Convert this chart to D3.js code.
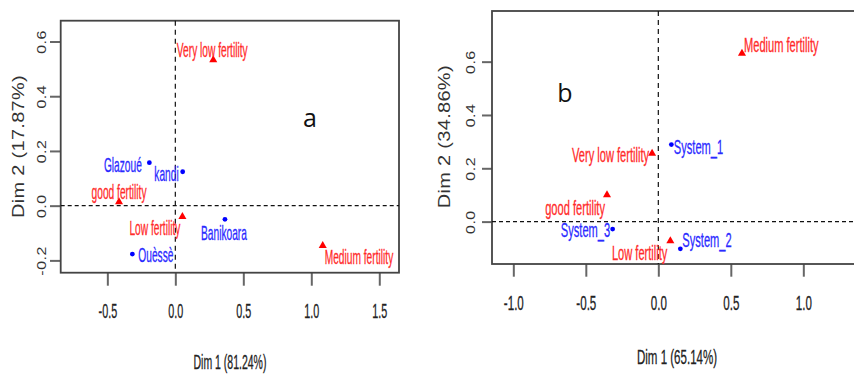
<!DOCTYPE html>
<html><head><meta charset="utf-8">
<script src="https://cdn.jsdelivr.net/npm/d3@7"></script>
<style>
html,body{margin:0;padding:0;background:#fff;}
svg{display:block;font-family:"Liberation Sans",Arial,Helvetica,sans-serif;}
</style></head>
<body>
<svg id="chart" width="854" height="374"></svg>
<script>
// ---------- Data (panel a) ----------
const sitesA = ["Glazoué", "kandi", "Banikoara", "Ouèssè"];
const sitesAx = [-0.191, 0.054, 0.365, -0.316];
const sitesAy = [0.157, 0.124, -0.050, -0.177];
const fertA = ["Very low fertility", "good fertility", "Low fertility", "Medium fertility"];
const fertAx = [0.279, -0.414, 0.052, 1.084];
const fertAy = [0.533, 0.014, -0.040, -0.146];
const xTicksA = [-0.5, 0.0, 0.5, 1.0, 1.5];
const yTicksA = [-0.2, 0.0, 0.2, 0.4, 0.6];
const xTitleA = "Dim 1 (81.24%)";
const yTitleA = "Dim 2 (17.87%)";

// ---------- Data (panel b) ----------
const sitesB = ["System_1", "System_2", "System_3"];
const sitesBx = [0.090, 0.152, -0.315];
const sitesBy = [0.289, -0.102, -0.028];
const fertB = ["Medium fertility", "Very low fertility", "good fertility", "Low fertility"];
const fertBx = [0.577, -0.043, -0.354, 0.083];
const fertBy = [0.631, 0.256, 0.100, -0.072];
const xTicksB = [-1.0, -0.5, 0.0, 0.5, 1.0, 1.5];
const yTicksB = [0.0, 0.2, 0.4, 0.6];
const xTitleB = "Dim 1 (65.14%)";
const yTitleB = "Dim 2 (34.86%)";

// label placement (anchor, dx, dy in px relative to the marker)
const placeA = {
  "Glazoué": ["end", -7.5, 2.5], "kandi": ["end", -4, 2], "Banikoara": ["middle", -1, 13.5],
  "Ouèssè": ["start", 6, 0.5], "Very low fertility": ["middle", -1, -10], "good fertility": ["middle", 0, -10],
  "Low fertility": ["end", -2, 11.6], "Medium fertility": ["start", 2, 11.6]
};
const placeB = {
  "System_1": ["start", 2.5, 2], "System_2": ["start", 2, -9], "System_3": ["end", -2.5, 0.5],
  "Medium fertility": ["start", 2, -8], "Very low fertility": ["end", -3, 2],
  "good fertility": ["end", -2, 13], "Low fertility": ["end", -3, 12]
};

const svg = d3.select("#chart");

function panel(cfg) {
  const g = svg.append("g");
  const x = d3.scaleLinear().domain(cfg.xDom).range(cfg.xRange);
  const y = d3.scaleLinear().domain(cfg.yDom).range(cfg.yRange);
  const [L, R] = cfg.xRange, [B, T] = cfg.yRange;
  const fmt = d => d.toFixed(1);

  // x axis
  const xa = g.append("g").attr("transform", `translate(0,${B})`)
    .call(d3.axisBottom(x).tickValues(cfg.xTicks.filter(v => x(v) < 854)).tickSize(cfg.tickLen).tickFormat(fmt));
  xa.select(".domain").remove();
  xa.selectAll(".tick line").attr("stroke", "#666").attr("stroke-width", 2);
  xa.selectAll(".tick text").attr("y", null).attr("dy", "0.35em").attr("fill", "#222")
    .attr("stroke", "#222").attr("stroke-width", 0.3)
    .attr("font-size", 20).attr("text-anchor", "middle")
    .attr("transform", `translate(0,${cfg.xLabOff}) scale(${cfg.tsx},1)`);

  // y axis
  const ya = g.append("g").attr("transform", `translate(${L},0)`)
    .call(d3.axisLeft(y).tickValues(cfg.yTicks).tickSize(cfg.tickLenY).tickFormat(fmt));
  ya.select(".domain").remove();
  ya.selectAll(".tick line").attr("stroke", "#666").attr("stroke-width", 2);
  ya.selectAll(".tick text").attr("x", null).attr("dy", "0.35em").attr("fill", "#333")
    .attr("font-size", 16).attr("text-anchor", "middle").attr("letter-spacing", 0.5)
    .attr("transform", `translate(${-cfg.yLabOff},0) rotate(-90) scale(1,0.85)`);

  // box
  g.append("rect").attr("x", L).attr("y", T).attr("width", R - L).attr("height", B - T)
    .attr("fill", "none").attr("stroke", "#444").attr("stroke-width", 1.8);

  // dashed zero lines
  g.append("line").attr("x1", x(0)).attr("x2", x(0)).attr("y1", T).attr("y2", B)
    .attr("stroke", "#111").attr("stroke-width", 1.2).attr("stroke-dasharray", "5,4");
  g.append("line").attr("x1", L).attr("x2", R).attr("y1", y(0)).attr("y2", y(0))
    .attr("stroke", "#111").attr("stroke-width", 1.4).attr("stroke-dasharray", "4,3");

  // titles
  g.append("text").text(cfg.xTitle).attr("font-size", 21).attr("fill", "#222")
    .attr("stroke", "#222").attr("stroke-width", 0.3)
    .attr("text-anchor", "middle").attr("dy", "0.35em")
    .attr("transform", `translate(${cfg.xTitlePos[0]},${cfg.xTitlePos[1]}) scale(${cfg.titleSx},1)`);
  g.append("text").text(cfg.yTitle).attr("font-size", 20).attr("fill", "#333")
    .attr("text-anchor", "middle").attr("dy", "0.35em").attr("letter-spacing", 0.3)
    .attr("transform", `translate(${cfg.yTitlePos[0]},${cfg.yTitlePos[1]}) rotate(-90) scale(1,0.8)`);

  // site points (blue dots)
  const sites = cfg.sites.map((n, i) => ({n, x: cfg.sx[i], y: cfg.sy[i]}));
  g.selectAll("circle.s").data(sites).join("circle").attr("class", "s")
    .attr("cx", d => x(d.x)).attr("cy", d => y(d.y)).attr("r", 2.4).attr("fill", "#0000ff");
  // fertility points (red triangles)
  const ferts = cfg.ferts.map((n, i) => ({n, x: cfg.fx[i], y: cfg.fy[i]}));
  const tri = d3.symbol().type(d3.symbolTriangle).size(28);
  g.selectAll("path.f").data(ferts).join("path").attr("class", "f")
    .attr("d", tri).attr("transform", d => `translate(${x(d.x)},${y(d.y)})`).attr("fill", "#ff0000");

  // labels
  const lab = (arr, color) => g.selectAll(null).data(arr).join("text")
    .text(d => d.n).attr("font-size", 20).attr("fill", color).attr("dy", "0.35em")
    .attr("stroke", color).attr("stroke-width", 0.3)
    .attr("text-anchor", d => cfg.place[d.n][0])
    .attr("transform", d => `translate(${x(d.x) + cfg.place[d.n][1]},${y(d.y) + cfg.place[d.n][2]}) scale(${cfg.lsx},1)`);
  lab(sites, "#2a2aff");
  lab(ferts, "#ff2a2a");

  // panel letter
  g.append("text").text(cfg.letter).attr("x", cfg.letterPos[0]).attr("y", cfg.letterPos[1])
    .attr("font-family", "'Open Sans','Noto Sans',sans-serif").attr("font-size", 25)
    .attr("fill", "#111").attr("text-anchor", "middle");
}

panel({
  xDom: [-0.843, 1.645], xRange: [60.7, 399], yDom: [-0.245, 0.676], yRange: [272.7, 20.7],
  xTicks: xTicksA, yTicks: yTicksA, tickLen: 13, tickLenY: 10.7, xLabOff: 38.7, yLabOff: 19.7,
  tsx: 0.54, xTitle: xTitleA, yTitle: yTitleA, xTitlePos: [230, 362], yTitlePos: [18.5, 146.5], titleSx: 0.5,
  sites: sitesA, sx: sitesAx, sy: sitesAy, ferts: fertA, fx: fertAx, fy: fertAy, place: placeA,
  lsx: 0.51, letter: "a", letterPos: [310, 126.5]
});
panel({
  xDom: [-1.147, 1.45], xRange: [492, 492 + 2.597 * 145], yDom: [-0.159, 0.79], yRange: [264, 11],
  xTicks: xTicksB, yTicks: yTicksB, tickLen: 12.7, tickLenY: 10, xLabOff: 39.3, yLabOff: 22,
  tsx: 0.58, xTitle: xTitleB, yTitle: yTitleB, xTitlePos: [677, 356.7], yTitlePos: [444.5, 136.7], titleSx: 0.55,
  sites: sitesB, sx: sitesBx, sy: sitesBy, ferts: fertB, fx: fertBx, fy: fertBy, place: placeB,
  lsx: 0.555, letter: "b", letterPos: [565, 101.5]
});
</script>
</body></html>
